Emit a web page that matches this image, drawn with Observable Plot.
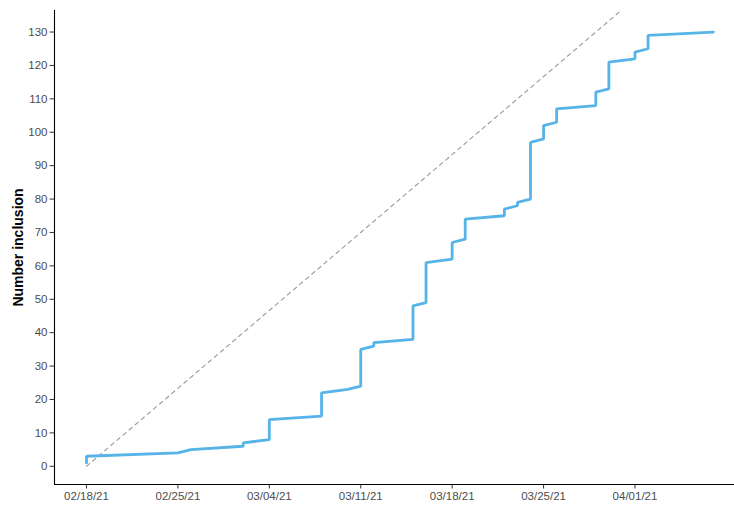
<!DOCTYPE html>
<html>
<head>
<meta charset="utf-8">
<script src="https://cdn.jsdelivr.net/npm/d3@7"></script>
<script src="https://cdn.jsdelivr.net/npm/@observablehq/plot@0.6"></script>
<style>
  html, body { margin: 0; padding: 0; background: #ffffff; }
  #chart svg { display: block; }
</style>
</head>
<body>
<div id="chart"></div>
<script>
// Cumulative inclusions (several rows on the same day make the vertical steps)
const inclusionDates = [
  "2021-02-18","2021-02-18","2021-02-25","2021-02-26","2021-03-02","2021-03-02",
  "2021-03-04","2021-03-04","2021-03-08","2021-03-08","2021-03-10","2021-03-11",
  "2021-03-11","2021-03-12","2021-03-12","2021-03-15","2021-03-15","2021-03-16",
  "2021-03-16","2021-03-18","2021-03-18","2021-03-19","2021-03-19","2021-03-22",
  "2021-03-22","2021-03-23","2021-03-23","2021-03-24","2021-03-24","2021-03-25",
  "2021-03-25","2021-03-26","2021-03-26","2021-03-29","2021-03-29","2021-03-30",
  "2021-03-30","2021-04-01","2021-04-01","2021-04-02","2021-04-02","2021-04-07"
];
const inclusionCounts = [
  1, 3, 4, 5, 6, 7,
  8, 14, 15, 22, 23, 24,
  35, 36, 37, 38, 48, 49,
  61, 62, 67, 68, 74, 75,
  77, 78, 79, 80, 97, 98,
  102, 103, 107, 108, 112, 113,
  121, 122, 124, 125, 129, 130
];
// Expected inclusion rate (dashed reference line, 10 per 3 days)
const targetDates = ["2021-02-18", "2021-04-01"];
const targetValues = [0, 140];
// X tick labels
const xTicks = ["2021-02-18","2021-02-25","2021-03-04","2021-03-11","2021-03-18","2021-03-25","2021-04-01"];
const yTicks = [0,10,20,30,40,50,60,70,80,90,100,110,120,130];
const yTitle = "Number inclusion";

const parse = d3.utcParse("%Y-%m-%d");
const series = inclusionDates.map((d, i) => ({date: parse(d), n: inclusionCounts[i]}));
const target = targetDates.map((d, i) => ({date: parse(d), n: targetValues[i]}));

const day = 864e5;
const t0 = parse("2021-02-18");
const xDomain = [new Date(+t0 - 2.45 * day), new Date(+t0 + 49.62 * day)];

const chart = Plot.plot({
  width: 734,
  height: 506,
  marginLeft: 54,
  marginRight: 0,
  marginTop: 10,
  marginBottom: 22,
  style: {fontFamily: "'Liberation Sans', Arial, sans-serif", fontSize: "11px", background: "#ffffff", color: "#4d4d4d"},
  x: {type: "utc", domain: xDomain},
  y: {domain: [-5.45, 136.45]},
  marks: [
    Plot.line(target, {x: "date", y: "n", stroke: "#999999", strokeWidth: 1.1, strokeDasharray: "4,4", clip: true}),
    Plot.line(series, {x: "date", y: "n", stroke: "#56B4E9", strokeWidth: 2.8, strokeLinejoin: "miter", curve: "linear"}),
    Plot.axisX({ticks: xTicks.map(parse), tickFormat: d3.utcFormat("%m/%d/%y"), tickSize: 4.5, tickPadding: 2.5, label: null, stroke: "#333333", fill: "#4d4d4d", fontSize: 11.5}),
    Plot.axisY({ticks: yTicks, tickSize: 4.5, tickPadding: 2.5, label: null, stroke: "#333333", fill: "#4d4d4d", fontSize: 11.5}),
    Plot.ruleX([xDomain[0]], {stroke: "#000000", strokeWidth: 1.1}),
    Plot.ruleY([-5.45], {stroke: "#000000", strokeWidth: 1.1}),
    Plot.text([yTitle], {frameAnchor: "left", textAnchor: "middle", dx: -36, rotate: -90, fontSize: 14, fontWeight: "bold", fill: "#000000", text: d => d})
  ]
});
document.getElementById("chart").appendChild(chart);
</script>
</body>
</html>
